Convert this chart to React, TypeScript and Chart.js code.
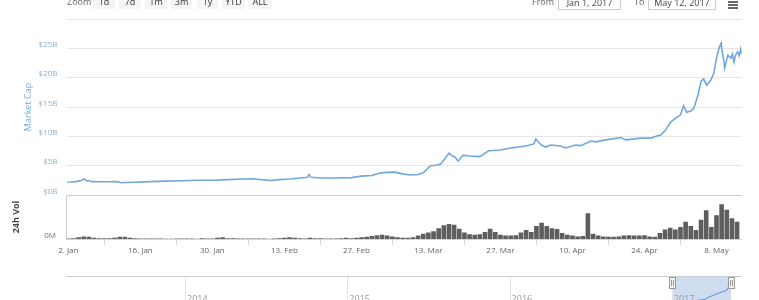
import React, { useEffect, useRef } from 'react';
import { Chart, registerables } from 'chart.js';

Chart.register(...registerables);

// ---------- data ----------
const xTickDays = [2, 16, 30, 44, 58, 72, 86, 100, 114, 128];
const xTickLabels = ['2. Jan', '16. Jan', '30. Jan', '13. Feb', '27. Feb', '13. Mar', '27. Mar', '10. Apr', '24. Apr', '8. May'];

const capTicks = [0, 5, 10, 15, 20, 25, 30];
const capTickLabels = ['$0B', '$5B', '$10B', '$15B', '$20B', '$25B', ''];

// day of year 2017 (1 = Jan 1)
const capDays = [1.8, 2.5, 3.5, 4.5, 5.2, 5.6, 6.0, 6.5, 8, 10, 11.5, 12.3, 13, 15, 18, 21, 24, 27, 30, 33, 36, 38, 40, 41.5, 43, 45, 47, 48.5, 48.8, 49.2, 51, 54, 57, 59, 61, 62.5, 64, 65.5, 67, 68.5, 70, 71, 72.4, 73.5, 74.4, 75.3, 76, 76.5, 77.2, 77.8, 78.3, 78.8, 80, 82, 83.7, 86, 88, 90.9, 92.5, 92.9, 93.5, 94, 94.8, 95.8, 97.7, 98.7, 100.6, 101.6, 103.6, 104.5, 106.5, 109.4, 110.4, 113.3, 115.2, 116.5, 117.2, 118.1, 119.1, 120.1, 121, 121.6, 122.2, 123, 123.6, 124.4, 125, 125.5, 126.1, 126.9, 127.5, 128, 128.5, 128.9, 129.2, 129.4, 129.6, 130.2, 130.8, 131.1, 131.4, 131.7, 132.1, 132.4, 132.7, 132.9];
// market cap, billions USD
const marketCap = [2.18, 2.21, 2.28, 2.47, 2.72, 2.37, 2.47, 2.28, 2.25, 2.25, 2.28, 2.08, 2.13, 2.18, 2.28, 2.37, 2.42, 2.52, 2.52, 2.62, 2.72, 2.77, 2.57, 2.47, 2.62, 2.72, 2.91, 3.01, 3.5, 3.01, 2.91, 2.91, 2.96, 3.21, 3.31, 3.75, 3.85, 3.9, 3.6, 3.4, 3.5, 3.8, 4.98, 5.07, 5.27, 6.3, 7.14, 6.74, 6.45, 5.76, 6.35, 6.79, 6.65, 6.55, 7.53, 7.68, 8.02, 8.36, 8.71, 9.54, 8.9, 8.51, 8.17, 8.51, 8.36, 8.02, 8.51, 8.41, 9.2, 9.05, 9.39, 9.79, 9.39, 9.69, 9.69, 10.08, 10.23, 11.06, 12.44, 13.13, 13.62, 15.24, 14.11, 14.3, 14.8, 17.05, 19.41, 19.8, 18.72, 19.6, 20.79, 23.34, 25.06, 25.89, 23.93, 23.04, 21.67, 23.83, 23.34, 24.03, 22.65, 23.83, 24.42, 23.73, 24.91, 24.03];

// daily 24h volume (relative units, 100 = top of the volume pane), starting Jan 2
const volStartDay = 2;
const volume = [1, 2, 4, 6, 5, 3, 2, 2, 2, 3, 5, 5, 3, 2, 1, 1, 1, 1, 1, 0.5, 0.5, 1, 1, 1, 1, 0.5, 2, 1, 1, 3, 4, 2, 2, 1, 1, 1, 1, 1, 1, 0.5, 1, 2, 3, 4, 3, 2, 1, 3, 2, 2, 1, 1, 1, 2, 3, 2, 3, 4, 5, 7, 9, 10, 8, 6, 4, 3, 3, 4, 8, 12, 15, 18, 25, 32, 35, 33, 24, 15, 11, 10, 11, 16, 24, 16, 10, 8, 8, 9, 15, 21, 16, 30, 38, 30, 25, 23, 14, 10, 8, 6, 7, 60, 12, 8, 6, 5, 5, 6, 8, 9, 8, 8, 9, 6, 5, 14, 22, 26, 22, 28, 40, 30, 21, 45, 67, 28, 55, 81, 68, 48, 40];

// navigator series (year fraction, billions)
const navYears = [2013.27, 2013.5, 2014, 2014.5, 2015, 2015.5, 2016, 2016.5, 2017.0, 2017.1, 2017.2, 2017.25, 2017.29, 2017.34, 2017.365];
const navCap = [0.1, 0.2, 0.1, 0.05, 0.03, 0.03, 0.3, 0.3, 2.2, 2.6, 4.5, 8.5, 11, 14, 24];
const navYearTicks = [2014, 2015, 2016, 2017];
const navSelection = [2017.0, 2017.365];

const rangeButtons = ['1d', '7d', '1m', '3m', '1y', 'YTD', 'ALL'];
const fromDate = 'Jan 1, 2017';
const toDate = 'May 12, 2017';

// ---------- layout ----------
const W = 759;
const H = 300;
const FONT = '"Open Sans", "DejaVu Sans", sans-serif';
const plotLeft = 66.5;
const plotRight = 741.7;
const plotTop = 19;
const plotBottom = 239;
const volTopPx = 195;
const btnLeft = [93, 119, 145, 171, 197, 222, 248];
const btnWidth = [22, 22, 22, 21, 21, 23, 24];

const panePlugin = {
  id: 'panePlugin',
  afterDraw(chart: any) {
    const ctx = chart.ctx;
    const a = chart.chartArea;
    const yv = chart.scales.yv;
    ctx.save();
    ctx.strokeStyle = '#cccccc';
    ctx.lineWidth = 1;
    ctx.beginPath();
    ctx.moveTo(Math.round(a.left) - 0.5, volTopPx + 0.5);
    ctx.lineTo(a.right, volTopPx + 0.5);
    ctx.moveTo(Math.round(a.left) - 0.5, volTopPx + 0.5);
    ctx.lineTo(Math.round(a.left) - 0.5, a.bottom);
    ctx.stroke();

    ctx.fillStyle = '#777';
    ctx.font = '8px ' + FONT;
    ctx.textAlign = 'right';
    ctx.textBaseline = 'middle';
    ctx.fillText('0M', 56, yv.getPixelForValue(0) - 3);

    ctx.save();
    ctx.translate(28.5, (a.top + volTopPx) / 2);
    ctx.rotate(-Math.PI / 2);
    ctx.textAlign = 'center';
    ctx.textBaseline = 'middle';
    ctx.fillStyle = '#7aaad8';
    ctx.font = '9px ' + FONT;
    ctx.fillText('Market Cap', 0, 0);
    ctx.restore();

    ctx.save();
    ctx.translate(16.5, (volTopPx + a.bottom) / 2);
    ctx.rotate(-Math.PI / 2);
    ctx.textAlign = 'center';
    ctx.textBaseline = 'middle';
    ctx.fillStyle = '#444';
    ctx.font = 'bold 9px ' + FONT;
    ctx.fillText('24h Vol', 0, 0);
    ctx.restore();

    ctx.restore();
  },
};

const navPlugin = {
  id: 'navPlugin',
  beforeDatasetsDraw(chart: any) {
    const ctx = chart.ctx;
    const a = chart.chartArea;
    const x = chart.scales.x;
    const h = chart.height;
    ctx.save();
    const s0 = x.getPixelForValue(navSelection[0]);
    const s1 = x.getPixelForValue(navSelection[1]);
    ctx.fillStyle = 'rgba(102,150,214,0.32)';
    ctx.fillRect(s0, 0, s1 - s0, h);
    ctx.strokeStyle = '#e3e3e3';
    ctx.lineWidth = 1;
    navYearTicks.forEach((yr) => {
      const px = Math.round(x.getPixelForValue(yr)) + 0.5;
      ctx.beginPath();
      ctx.moveTo(px, 0);
      ctx.lineTo(px, h);
      ctx.stroke();
    });
    ctx.strokeStyle = '#cccccc';
    ctx.beginPath();
    ctx.moveTo(a.left, 0.5);
    ctx.lineTo(a.right, 0.5);
    ctx.stroke();
    ctx.fillStyle = '#999';
    ctx.font = '9px ' + FONT;
    ctx.textAlign = 'left';
    ctx.textBaseline = 'alphabetic';
    navYearTicks.forEach((yr) => {
      const px = x.getPixelForValue(yr);
      ctx.fillText(String(yr), px + 2, 25.5);
    });
    ctx.restore();
  },
  afterDatasetsDraw(chart: any) {
    const ctx = chart.ctx;
    const x = chart.scales.x;
    ctx.save();
    navSelection.forEach((v) => {
      const px = Math.round(x.getPixelForValue(v)) + 0.5;
      ctx.fillStyle = '#f2f2f2';
      ctx.strokeStyle = '#999';
      ctx.lineWidth = 1;
      ctx.fillRect(px - 3, 1.5, 6, 11);
      ctx.strokeRect(px - 3, 1.5, 6, 11);
      ctx.beginPath();
      ctx.moveTo(px - 1, 4);
      ctx.lineTo(px - 1, 10);
      ctx.moveTo(px + 1, 4);
      ctx.lineTo(px + 1, 10);
      ctx.stroke();
    });
    ctx.restore();
  },
};

function mainConfig(): any {
  return {
    type: 'line',
    data: {
      datasets: [
        {
          type: 'line',
          data: capDays.map((d, i) => ({ x: d, y: marketCap[i] })),
          borderColor: '#72a7dc',
          borderWidth: 1.6,
          pointRadius: 0,
          tension: 0,
          fill: false,
          xAxisID: 'x',
          yAxisID: 'y',
        },
        {
          type: 'bar',
          data: volume.map((v, i) => ({ x: volStartDay + i, y: v })),
          backgroundColor: '#5e5e5e',
          barPercentage: 1,
          categoryPercentage: 0.9,
          xAxisID: 'x',
          yAxisID: 'yv',
        },
      ],
    },
    options: {
      animation: false,
      responsive: false,
      maintainAspectRatio: false,
      events: [],
      layout: { padding: { left: 0, right: W - plotRight, top: plotTop, bottom: H - plotBottom - 20 } },
      plugins: { legend: { display: false }, tooltip: { enabled: false } },
      scales: {
        x: {
          type: 'linear',
          min: 1.65,
          max: 132.9,
          offset: false,
          afterBuildTicks: (s: any) => {
            s.ticks = xTickDays.map((v) => ({ value: v }));
          },
          afterFit: (s: any) => {
            s.height = 20;
          },
          ticks: {
            autoSkip: false,
            maxRotation: 0,
            color: '#666',
            font: { family: FONT, size: 8 },
            padding: 1,
            callback: (v: number) => {
              const i = xTickDays.indexOf(v);
              return i >= 0 ? xTickLabels[i] : '';
            },
          },
          grid: { drawOnChartArea: false, drawTicks: true, tickLength: 6, color: '#ccd6eb' },
          border: { display: true, color: '#ccd6eb' },
        },
        y: {
          type: 'linear',
          position: 'left',
          min: -7.5,
          max: 30,
          afterBuildTicks: (s: any) => {
            s.ticks = capTicks.map((v) => ({ value: v }));
          },
          afterFit: (s: any) => {
            s.width = plotLeft;
          },
          ticks: {
            autoSkip: false,
            color: '#8db3d6',
            font: { family: FONT, size: 8 },
            padding: 9,
            labelOffset: -3.5,
            callback: (_v: number, i: number) => capTickLabels[i],
          },
          grid: { color: '#e6e6e6', drawTicks: false, lineWidth: 1 },
          border: { display: false },
        },
        yv: {
          type: 'linear',
          display: false,
          position: 'right',
          min: 0,
          max: ((plotBottom - plotTop) / (plotBottom - volTopPx - 1)) * 100,
        },
      },
    },
    plugins: [panePlugin],
  };
}

function navConfig(): any {
  return {
    type: 'line',
    data: {
      datasets: [
        {
          data: navYears.map((y, i) => ({ x: y, y: navCap[i] })),
          borderColor: '#5b8fd6',
          borderWidth: 1,
          pointRadius: 0,
          tension: 0,
          fill: false,
        },
      ],
    },
    options: {
      animation: false,
      responsive: false,
      maintainAspectRatio: false,
      events: [],
      layout: { padding: { left: plotLeft, right: W - plotRight, top: 1, bottom: 2 } },
      plugins: { legend: { display: false }, tooltip: { enabled: false } },
      scales: {
        x: { type: 'linear', display: false, min: 2013.27, max: 2017.43 },
        y: { type: 'linear', display: false, min: 0, max: 27 },
      },
    },
    plugins: [navPlugin],
  };
}

export default function App() {
  const mainRef = useRef<HTMLCanvasElement>(null);
  const navRef = useRef<HTMLCanvasElement>(null);

  useEffect(() => {
    const c1 = new Chart(mainRef.current as HTMLCanvasElement, mainConfig());
    const c2 = new Chart(navRef.current as HTMLCanvasElement, navConfig());
    return () => {
      c1.destroy();
      c2.destroy();
    };
  }, []);

  const txt: React.CSSProperties = { position: 'absolute', fontSize: 9, fontFamily: FONT, whiteSpace: 'nowrap' };

  return (
    <div style={{ position: 'fixed', left: 0, top: 0, width: W, height: H, overflow: 'hidden', background: '#fff', fontFamily: FONT }}>
      <canvas ref={mainRef} width={W} height={H} style={{ position: 'absolute', left: 0, top: 0, width: W, height: H }} />
      <canvas ref={navRef} width={W} height={30} style={{ position: 'absolute', left: 0, top: 276, width: W, height: 30 }} />

      <div style={{ ...txt, left: 67, top: -4, lineHeight: '12px', color: '#666' }}>Zoom</div>
      {rangeButtons.map((b, i) => (
        <div
          key={b}
          style={{
            ...txt,
            left: btnLeft[i],
            top: -10,
            width: btnWidth[i],
            height: 19,
            background: '#f5f5f5',
            color: '#333',
            textAlign: 'center',
            lineHeight: '24px',
            overflow: 'hidden',
          }}
        >
          {b}
        </div>
      ))}

      <div style={{ ...txt, left: 532, top: -4, lineHeight: '12px', color: '#666' }}>From</div>
      <div
        style={{
          ...txt,
          left: 558,
          top: -10,
          width: 61,
          height: 18,
          border: '1px solid #cccccc',
          color: '#444',
          textAlign: 'center',
          lineHeight: '24px',
          overflow: 'hidden',
        }}
      >
        {fromDate}
      </div>
      <div style={{ ...txt, left: 634, top: -4, lineHeight: '12px', color: '#666' }}>To</div>
      <div
        style={{
          ...txt,
          left: 648,
          top: -10,
          width: 66,
          height: 18,
          border: '1px solid #cccccc',
          color: '#444',
          textAlign: 'center',
          lineHeight: '24px',
          overflow: 'hidden',
        }}
      >
        {toDate}
      </div>

      {[1, 4, 7].map((t) => (
        <div key={t} style={{ position: 'absolute', left: 728, top: t, width: 10, height: 1.6, background: '#666' }} />
      ))}
    </div>
  );
}
